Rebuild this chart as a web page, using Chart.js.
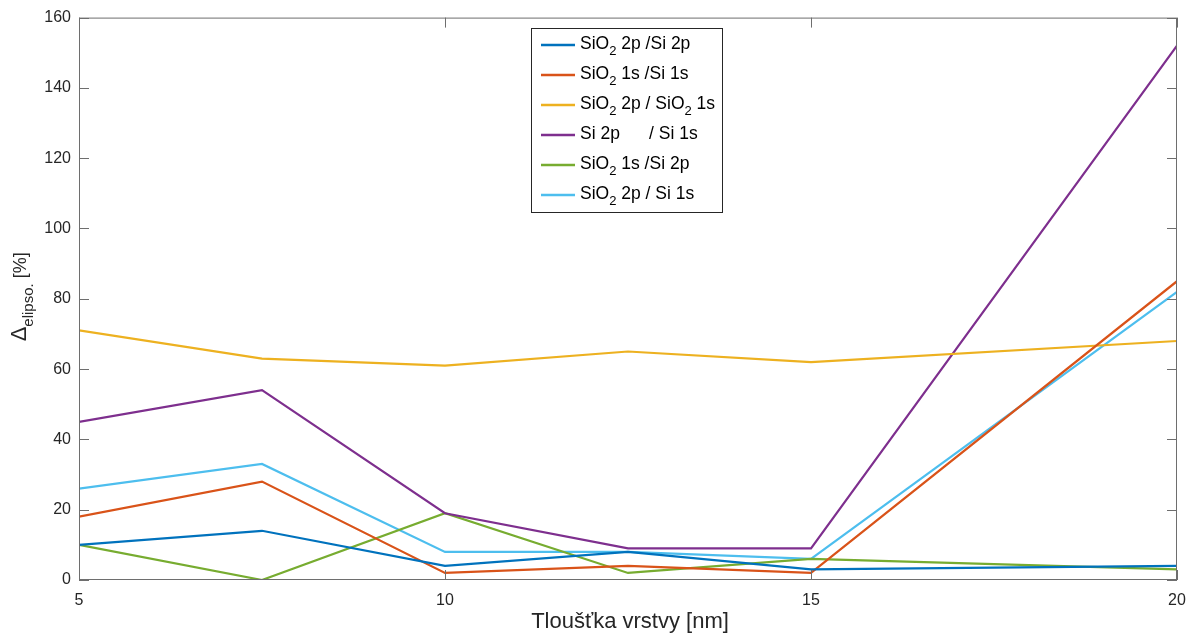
<!DOCTYPE html>
<html>
<head>
<meta charset="utf-8">
<script src="https://cdn.jsdelivr.net/npm/chart.js@4.4.0/dist/chart.umd.min.js"></script>
<style>
  html, body { margin: 0; padding: 0; background: #fff; }
  #wrap { width: 1197px; height: 634px; }
</style>
</head>
<body>
<div id="wrap"><canvas id="graf"></canvas></div>
<script>
// data
const tloustka = [5, 7.5, 10, 12.5, 15, 20];
const sio2p_si2p = [10, 14, 4, 8, 3, 4];
const sio1s_si1s = [18, 28, 2, 4, 2, 85];
const sio2p_sio1s = [71, 63, 61, 65, 62, 68];
const si2p_si1s = [45, 54, 19, 9, 9, 152];
const sio1s_si2p = [10, 0, 19, 2, 6, 3];
const sio2p_si1s = [26, 33, 8, 8, 6, 82];

const popisky = [
  "SiO_{2} 2p /Si 2p",
  "SiO_{2} 1s /Si 1s",
  "SiO_{2} 2p / SiO_{2} 1s",
  "Si 2p      / Si 1s",
  "SiO_{2} 1s /Si 2p",
  "SiO_{2} 2p / Si 1s",
];
const barvy = ["#0072BD", "#D95319", "#EDB120", "#7E2F8E", "#77AC30", "#4DBEEE"];
const xTicks = [5, 10, 15, 20];
const yTicks = [0, 20, 40, 60, 80, 100, 120, 140, 160];

const FONT = "'Liberation Sans', Arial, sans-serif";
const AXIS = "#6e6e6e";

function body(xs, ys) {
  return xs.map((x, i) => ({ x: x, y: ys[i] }));
}

// kresli text s dolnim indexem: "SiO_{2}"
function richText(ctx, str, x, y, size, subSize, subDy) {
  const parts = str.split(/(_\{[^}]*\})/);
  let cx = x;
  parts.forEach(p => {
    if (!p) return;
    if (p.startsWith("_{")) {
      const t = p.slice(2, -1);
      ctx.font = subSize + "px " + FONT;
      ctx.fillText(t, cx, y + subDy);
      cx += ctx.measureText(t).width;
    } else {
      ctx.font = size + "px " + FONT;
      ctx.fillText(p, cx, y);
      cx += ctx.measureText(p).width;
    }
  });
  return cx - x;
}

const ramecek = {
  id: "ramecek",
  afterDraw(chart) {
    const ctx = chart.ctx;
    const a = chart.chartArea;
    const sx = chart.scales.x, sy = chart.scales.y;
    ctx.save();
    ctx.strokeStyle = AXIS;
    ctx.lineWidth = 1;
    ctx.strokeRect(a.left + 0.5, a.top + 0.5, a.right - a.left - 1, a.bottom - a.top - 1);
    ctx.beginPath();
    xTicks.forEach(v => {
      const px = Math.round(sx.getPixelForValue(v)) + 0.5;
      ctx.moveTo(px, a.bottom); ctx.lineTo(px, a.bottom - 10);
      ctx.moveTo(px, a.top); ctx.lineTo(px, a.top + 10);
    });
    yTicks.forEach(v => {
      const py = Math.round(sy.getPixelForValue(v)) + 0.5;
      ctx.moveTo(a.left, py); ctx.lineTo(a.left + 10, py);
      ctx.moveTo(a.right, py); ctx.lineTo(a.right - 10, py);
    });
    ctx.stroke();

    // osa x - popis
    ctx.fillStyle = "#262626";
    ctx.font = "22px " + FONT;
    ctx.textAlign = "center";
    ctx.textBaseline = "alphabetic";
    ctx.fillText("Tloušťka vrstvy [nm]", (a.left + a.right) / 2 + 2, 628);

    // osa y - popis s indexem
    ctx.save();
    ctx.translate(26, (a.top + a.bottom) / 2 - 2);
    ctx.rotate(-Math.PI / 2);
    ctx.textAlign = "left";
    ctx.font = "22px " + FONT;
    const w1 = ctx.measureText("\u0394").width;
    ctx.font = "15px " + FONT;
    const w2 = ctx.measureText("elipso.").width;
    ctx.font = "18px " + FONT;
    const w3 = ctx.measureText(" [%]").width;
    let x0 = -(w1 + w2 + w3) / 2;
    ctx.font = "22px " + FONT;
    ctx.fillText("\u0394", x0, 0);
    ctx.font = "15px " + FONT;
    ctx.fillText("elipso.", x0 + w1, 7);
    ctx.font = "18px " + FONT;
    ctx.fillText(" [%]", x0 + w1 + w2, 0);
    ctx.restore();

    // legenda
    const lx = 531, ly = 28, lw = 191, lh = 184;
    ctx.fillStyle = "#fff";
    ctx.fillRect(lx, ly, lw, lh);
    ctx.strokeStyle = "#262626";
    ctx.lineWidth = 1;
    ctx.strokeRect(lx + 0.5, ly + 0.5, lw, lh);
    chart.data.datasets.forEach((ds, i) => {
      const yy = 45 + i * 30;
      ctx.strokeStyle = ds.borderColor;
      ctx.lineWidth = 2.5;
      ctx.beginPath();
      ctx.moveTo(541, yy); ctx.lineTo(575, yy);
      ctx.stroke();
      ctx.fillStyle = "#000";
      ctx.textBaseline = "middle";
      ctx.textAlign = "left";
      richText(ctx, ds.label, 580, yy - 1, 17.5, 13, 7);
    });
    ctx.restore();
  }
};

const sady = [sio2p_si2p, sio1s_si1s, sio2p_sio1s, si2p_si1s, sio1s_si2p, sio2p_si1s];

new Chart(document.getElementById("graf").getContext("2d"), {
  type: "line",
  data: {
    datasets: sady.map((s, i) => ({
      label: popisky[i],
      data: body(tloustka, s),
      borderColor: barvy[i],
      backgroundColor: barvy[i],
      borderWidth: 2.2,
      pointRadius: 0,
      tension: 0,
    })),
  },
  options: {
    responsive: true,
    maintainAspectRatio: false,
    animation: false,
    layout: { padding: { top: 16, right: 20, left: 0, bottom: 0 } },
    plugins: {
      legend: { display: false },
      tooltip: { enabled: false },
    },
    scales: {
      x: {
        type: "linear",
        min: 5,
        max: 20,
        afterBuildTicks: s => { s.ticks = xTicks.map(v => ({ value: v })); },
        afterFit: s => { s.height = 54; },
        grid: { display: false, drawTicks: false },
        border: { display: false },
        ticks: { padding: 11, color: "#262626", font: { size: 16, family: FONT } },
      },
      y: {
        min: 0,
        max: 160,
        afterBuildTicks: s => { s.ticks = yTicks.map(v => ({ value: v })); },
        afterFit: s => { s.width = 79; },
        grid: { display: false, drawTicks: false },
        border: { display: false },
        ticks: { padding: 8, color: "#262626", font: { size: 16, family: FONT } },
      },
    },
  },
  plugins: [ramecek],
});
</script>
</body>
</html>
